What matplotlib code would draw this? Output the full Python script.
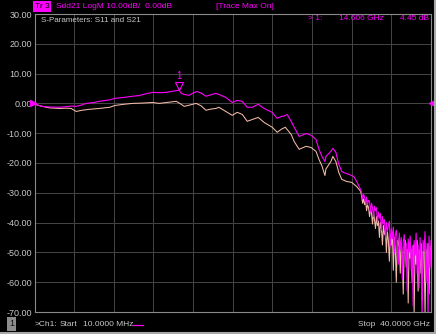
import numpy as np
import matplotlib
matplotlib.use("Agg")
import matplotlib.pyplot as plt

plt.rcParams['font.family'] = ['Liberation Sans', 'DejaVu Sans']

# Sdd21 (magenta) - smooth part, GHz / dB
f_mag = [0.01, 0.03, 0.06, 0.8, 1.5, 2.5, 3.2, 3.7, 4.2, 4.8, 5.2, 6.0, 6.5, 7.0, 7.6,
         8.1, 9.0, 9.9, 10.5, 11.2, 11.9, 12.6, 13.3, 14.0, 14.6, 14.8, 15.1, 15.6,
         16.0, 16.4, 16.9, 17.3, 17.9, 18.3, 18.6, 19.3, 19.95, 20.45, 20.96, 21.46,
         21.96, 22.57, 23.17, 23.98, 24.48, 24.89, 25.19, 25.49, 25.89, 26.2, 26.7,
         27.4, 27.9, 28.4, 28.7, 29.0, 29.3, 29.4, 29.9, 30.1, 30.4, 30.7, 31.0, 31.2,
         31.7, 32.2, 32.5, 32.9]
db_mag = [0.0, -5.5, -0.3, -1.0, -1.2, -1.3, -1.1, -0.9, -1.0, -0.5, 0.0, 0.3, 0.7, 0.9,
          1.2, 1.7, 2.0, 2.4, 2.6, 3.2, 3.7, 3.6, 3.7, 4.1, 4.45, 3.4, 3.0, 2.7, 3.5,
          4.0, 3.3, 2.4, 3.0, 3.4, 3.0, 2.0, 0.3, 1.0, 0.7, -1.3, -1.3, -0.3, -1.7,
          -3.0, -5.0, -4.4, -4.2, -3.7, -6.0, -8.0, -11.1, -10.1, -10.7, -12.1, -15.4,
          -17.8, -19.5, -17.8, -16.1, -15.1, -16.4, -20.5, -22.8, -23.2, -23.8, -24.5,
          -26.2, -28.9]

# second trace (peach) - smooth part
f_pch = [0.01, 0.8, 1.5, 2.5, 3.2, 3.7, 4.2, 4.8, 5.5, 6.5, 7.6, 8.1, 9.0, 9.9, 10.8,
         11.9, 12.6, 13.3, 14.3, 14.8, 15.1, 15.6, 16.3, 16.8, 17.3, 17.8, 18.3, 18.6,
         19.3, 19.95, 20.45, 20.96, 21.46, 21.96, 22.57, 23.17, 23.98, 24.48, 24.89,
         25.3, 25.89, 26.2, 26.7, 27.4, 27.9, 28.4, 28.7, 29.0, 29.3, 29.4, 29.9, 30.1,
         30.4, 30.7, 31.0, 31.5, 32.0, 32.5, 32.9]
db_pch = [-0.3, -1.0, -1.5, -1.7, -1.6, -1.7, -2.7, -2.3, -2.0, -1.7, -1.3, -0.7, -0.3,
          0.0, 0.1, 0.3, 0.0, 0.3, 0.7, -0.3, -1.0, -0.6, 0.0, -0.8, -2.3, -1.9, -1.7,
          -1.3, -2.7, -4.0, -3.0, -3.7, -6.0, -5.4, -4.7, -6.4, -8.0, -9.7, -8.7, -8.0,
          -10.4, -12.8, -15.4, -14.4, -14.8, -16.1, -18.8, -21.0, -24.2, -22.0, -19.5,
          -17.8, -19.5, -23.2, -25.5, -26.2, -26.5, -27.9, -29.5]

# noisy tail 33..40 GHz
f_noise = [33.0, 33.1, 33.2, 33.3, 33.4, 33.5, 33.6, 33.7, 33.8, 33.9, 34.0, 34.1, 34.2,
           34.3, 34.4, 34.5, 34.6, 34.7, 34.8, 34.9, 35.0, 35.1, 35.2, 35.3, 35.4, 35.5,
           35.6, 35.7, 35.8, 35.9, 36.0, 36.1, 36.2, 36.3, 36.4, 36.5, 36.6, 36.7, 36.8,
           36.9, 37.0, 37.1, 37.2, 37.3, 37.4, 37.5, 37.6, 37.7, 37.8, 37.9, 38.0, 38.1,
           38.2, 38.3, 38.4, 38.5, 38.6, 38.7, 38.8, 38.9, 39.0, 39.1, 39.2, 39.3, 39.4,
           39.5, 39.6, 39.7, 39.8, 39.9, 40.0]
db_mag_noise = [-30.0, -32.0, -30.5, -31.5, -33.5, -31.5, -34.0, -32.5, -33.0, -36.5,
                -33.5, -35.0, -38.0, -34.5, -36.0, -35.0, -40.0, -36.5, -38.5, -37.0,
                -42.5, -38.0, -40.5, -39.0, -45.0, -40.0, -43.0, -41.0, -39.5, -48.0,
                -42.0, -45.5, -41.5, -50.5, -44.0, -42.5, -47.0, -54.0, -43.5, -49.0,
                -45.0, -59.0, -46.5, -44.0, -52.0, -47.0, -63.0, -45.5, -50.0, -44.5,
                -56.0, -48.0, -68.0, -46.0, -51.0, -43.5, -57.0, -47.5, -62.0, -45.0,
                -53.0, -73.0, -46.0, -49.5, -43.0, -60.0, -47.0, -74.0, -44.5, -55.0,
                -46.0]
db_pch_noise = [-31.0, -33.5, -32.0, -34.0, -32.5, -36.0, -34.0, -35.0, -38.0, -35.5,
                -37.0, -40.5, -36.5, -39.0, -42.0, -38.0, -41.0, -39.5, -45.0, -40.0,
                -42.0, -47.5, -41.0, -44.0, -42.5, -50.0, -43.0, -46.0, -53.0, -44.0,
                -47.5, -43.5, -56.0, -45.0, -49.0, -60.0, -46.0, -48.0, -45.0, -57.0,
                -47.0, -51.0, -64.0, -48.0, -46.0, -55.0, -49.0, -67.0, -47.0, -52.0,
                -49.0, -60.0, -47.5, -70.0, -48.0, -54.0, -46.0, -63.0, -49.0, -57.0,
                -47.0, -66.0, -50.0, -48.0, -71.0, -49.0, -55.0, -47.0, -64.0, -50.0,
                -48.0]

y_ticks = [30, 20, 10, 0, -10, -20, -30, -40, -50, -60, -70]
x_grid = [0, 4, 8, 12, 16, 20, 24, 28, 32, 36, 40]

magenta = '#ff00ff'
peach = '#f4bca8'
txt = '#c8c8c8'

fig = plt.figure(figsize=(4.36, 3.34), dpi=100, facecolor='black')
W, H = 436, 334
ax = fig.add_axes([34.5 / W, (H - 312) / H, (431 - 34.5) / W, (312 - 14) / H])
ax.set_facecolor('black')

ax.plot(f_pch + f_noise, db_pch + db_pch_noise, color=peach, lw=0.75, zorder=3)
ax.plot(f_mag + f_noise, db_mag + db_mag_noise, color=magenta, lw=0.8, zorder=4)

ax.set_xlim(0, 40)
ax.set_ylim(-70, 30)
ax.set_xticks(x_grid)
ax.set_xticklabels([])
ax.set_yticks(y_ticks)
ax.set_yticklabels([f"{v:.2f}" for v in y_ticks], color=txt, fontsize=6.5)
ax.tick_params(length=0, pad=2)
ax.grid(True, color='#464646', lw=0.7)
for s in ax.spines.values():
    s.set_color('#8a8a8a')
    s.set_linewidth(0.8)

# marker 1 at 14.606 GHz
ax.plot([14.606], [6.0], marker='v', ms=6, mfc='none', mec=magenta, mew=0.8, zorder=5)
ax.text(14.606, 7.6, '1', color=magenta, fontsize=7, ha='center', va='bottom')

# reference level arrows
ax.plot([-0.15], [0], marker='>', ms=4, color=magenta, clip_on=False, zorder=6)
ax.plot([40.1], [0], marker='<', ms=4, color=magenta, clip_on=False, zorder=6)


def ftext(x, y, s, size=6.0, **kw):
    fig.text(x / W, 1 - y / H, s, fontsize=size, va='center', **kw)


ftext(41, 20, 'S-Parameters: S11 and S21', size=5.8, color=txt)
ftext(35, 6.5, 'Tr 3', color='black',
      bbox=dict(boxstyle='square,pad=0.2', fc=magenta, ec='none'))
ftext(56, 6.5, 'Sdd21 LogM 10.00dB/  0.00dB', color=magenta)
ftext(216, 6.5, '[Trace Max On]', color=magenta)
ftext(308, 18, '> 1:', color=magenta)
ftext(339, 18, '14.606 GHz', color=magenta)
ftext(429, 18, '4.45 dB', color=magenta, ha='right')
ftext(35, 325, '>Ch1:', color=txt)
ftext(60, 325, 'Start', color=txt)
ftext(83, 325, '10.0000 MHz', color=txt)
ftext(430, 325, 'Stop  40.0000 GHz', color=txt, ha='right')
ftext(11.5, 324, '1', size=6.5, color='#101010', ha='center',
      bbox=dict(boxstyle='square,pad=0.25', fc='#8c8c8c', ec='none'))
fig.add_artist(plt.Line2D([133 / W, 143 / W], [1 - 325 / H, 1 - 325 / H],
                          color=magenta, lw=0.9))
# outer frame lines
fig.add_artist(plt.Line2D([0, 1], [1 - 332.5 / H, 1 - 332.5 / H], color='#a8a8a8', lw=1.5))
fig.add_artist(plt.Line2D([434.5 / W, 434.5 / W], [1 - 332.5 / H, 1], color='#a8a8a8', lw=1.5))

fig.savefig('out.png', dpi=100, facecolor='black')
